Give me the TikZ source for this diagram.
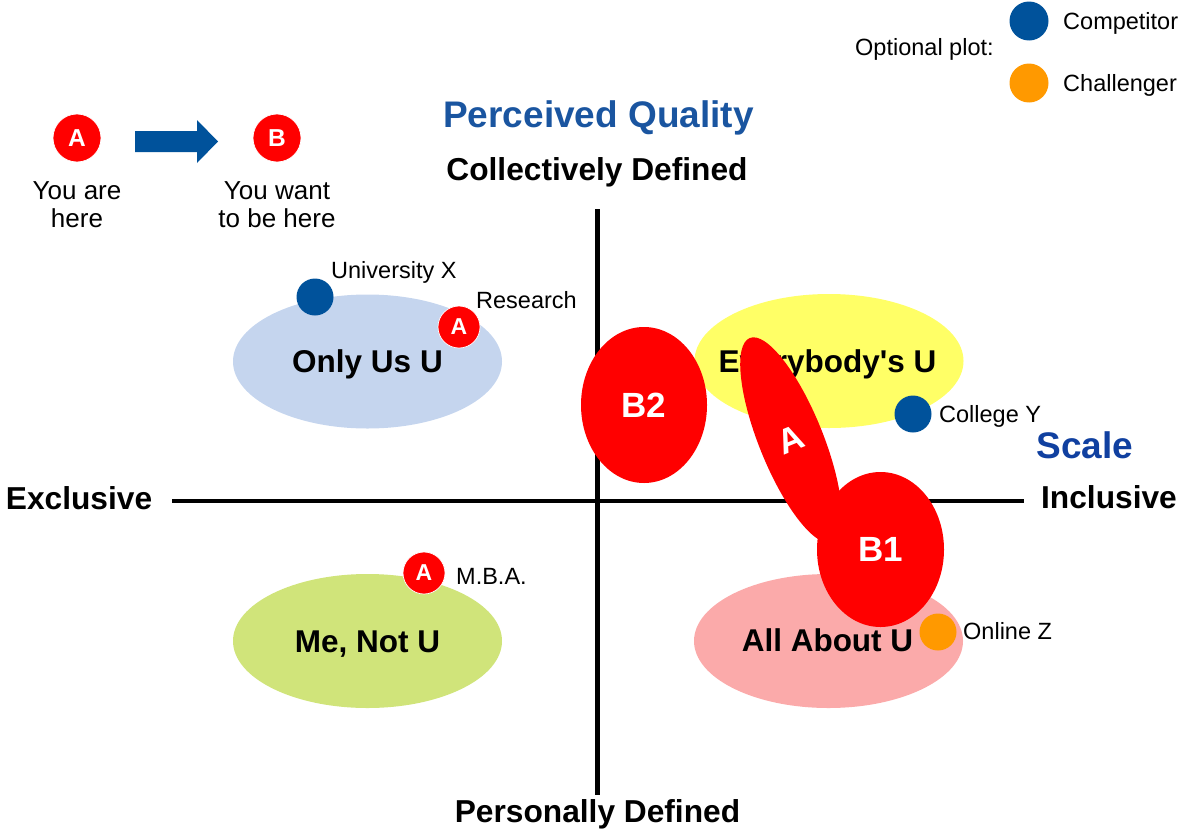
\documentclass[tikz,border=0pt]{standalone}
\usepackage{fontspec}
\setmainfont{Liberation Sans}
\usetikzlibrary{shapes.geometric}

\definecolor{markred}{HTML}{FF0000}
\definecolor{dotblue}{HTML}{00529B}
\definecolor{dotorange}{HTML}{FF9900}
\definecolor{titleblue}{HTML}{1A55A0}
\definecolor{scaleblue}{HTML}{1040A0}
\definecolor{onlyusfill}{HTML}{C5D5EE}
\definecolor{menotfill}{HTML}{D0E47A}
\definecolor{everyfill}{HTML}{FFFF66}
\definecolor{allaboutfill}{HTML}{FBAAAA}

\begin{document}
\begin{tikzpicture}[x=1pt,y=-1pt,
  region/.style={ellipse, inner sep=0pt, minimum width=269pt, minimum height=134pt},
  regionlabel/.style={anchor=base, inner sep=0pt, font=\fontsize{31.5}{36}\selectfont\bfseries},
  axislabel/.style={anchor=base, inner sep=0pt, font=\fontsize{31.7}{36}\selectfont\bfseries},
  titlelabel/.style={anchor=base, inner sep=0pt, font=\fontsize{37}{42}\selectfont\bfseries},
  smalllabel/.style={anchor=base west, inner sep=0pt, font=\fontsize{23.5}{27}\selectfont},
  captionlabel/.style={anchor=base, inner sep=0pt, align=center, font=\fontsize{26}{28}\selectfont},
  badge/.style={circle, fill=markred, draw=white, line width=0.7pt, minimum size=42pt, inner sep=0pt,
    text=white, font=\fontsize{23}{26}\selectfont\bfseries},
  bigbadge/.style={badge, minimum size=48pt, font=\fontsize{24.5}{28}\selectfont\bfseries},
  dot/.style={circle, minimum size=37pt, inner sep=0pt},
  target/.style={ellipse, fill=markred, inner sep=0pt, text=white,
    font=\fontsize{35}{40}\selectfont\bfseries},
  axisline/.style={line width=4.6pt},
]
\useasboundingbox (0,0) rectangle (1182,835);

% axes
\coordinate (xleft) at (172,501);
\coordinate (xright) at (1024,501);
\coordinate (ytop) at (597.5,209);
\coordinate (ybottom) at (597.5,795);
\draw[axisline] (xleft) -- (xright);
\draw[axisline] (ytop) -- (ybottom);

% axis labels and titles
\node[axislabel] (exclusive) at (79,509.5) {Exclusive};
\node[axislabel] (inclusive) at (1109,508.5) {Inclusive};
\node[axislabel] (collective) at (597,180) {Collectively Defined};
\node[axislabel] (personal) at (597.5,822) {Personally Defined};
\node[titlelabel, text=titleblue] (quality) at (598.5,127) {Perceived Quality};
\node[titlelabel, text=scaleblue] (scale) at (1085,458) {Scale};

% quadrant regions
\node[region, fill=onlyusfill] (onlyus) at (367.5,361.5) {};
\node[region, fill=menotfill] (menot) at (367.5,641) {};
\node[region, fill=everyfill] (everybody) at (829,361) {};
\node[region, fill=allaboutfill] (allabout) at (828.5,641) {};
\node[regionlabel] (onlyuslabel) at (367.5,372) {Only Us U};
\node[regionlabel] (menotlabel) at (367.5,652) {Me, Not U};
\node[regionlabel] (everybodylabel) at (827.5,372) {Everybody\textquotesingle s U};
\node[regionlabel] (allaboutlabel) at (827.5,651) {All About U};

% plotted institutions
\node[dot, fill=dotblue] (univx) at (315,297) {};
\node[smalllabel] (univxlabel) at (331,278) {University X};
\node[badge] (research) at (459,327) {A};
\node[smalllabel] (researchlabel) at (476,308) {Research};
\node[badge] (mba) at (424,573) {A};
\node[smalllabel] (mbalabel) at (456,584) {M.B.A.};
\node[dot, fill=dotblue] (collegey) at (913,414) {};
\node[smalllabel] (collegeylabel) at (939,422) {College Y};
\node[dot, fill=dotorange] (onlinez) at (938,632) {};
\node[smalllabel] (onlinezlabel) at (963,639) {Online Z};

% current position and targets
\node[target, minimum width=126pt, minimum height=156pt] (btwo) at (644,405) {B2};
\node[target, minimum width=64pt, minimum height=220pt, rotate=22] (acur) at (791,440) {A};
\node[target, minimum width=127pt, minimum height=155pt] (bone) at (880.5,549.5) {B1};

% legend: from A to B
\node[bigbadge] (legenda) at (77,138) {A};
\node[bigbadge] (legendb) at (277,138) {B};
\fill[dotblue] (135,131) -- (197,131) -- (197,120) -- (218,141.5) -- (197,163)
  -- (197,152) -- (135,152) -- cycle;
\node[captionlabel] (herecap) at (77,227) {You are\\here};
\node[captionlabel] (wantcap) at (277,227) {You want\\to be here};

% legend: optional plot
\node[smalllabel] (optional) at (855,55) {Optional plot:};
\node[dot, fill=dotblue, minimum size=39pt] (legcomp) at (1029,21) {};
\node[dot, fill=dotorange, minimum size=39pt] (legchal) at (1029,83) {};
\node[smalllabel] (complabel) at (1063,29) {Competitor};
\node[smalllabel] (challabel) at (1063,91) {Challenger};
\end{tikzpicture}
\end{document}
